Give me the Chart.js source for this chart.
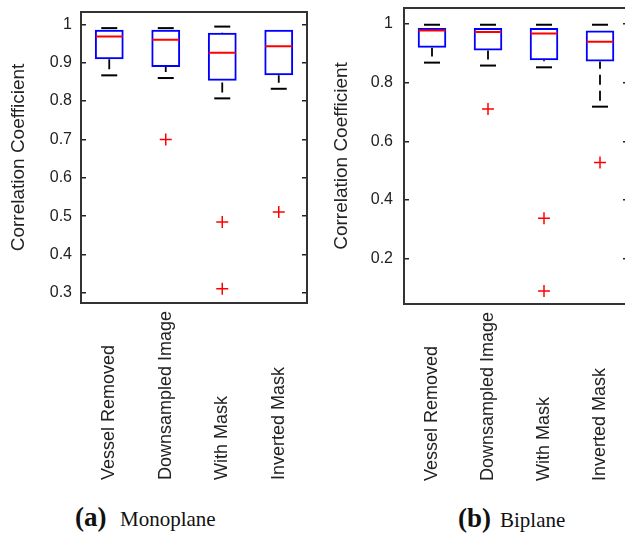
<!DOCTYPE html>
<html><head><meta charset="utf-8">
<script src="https://cdn.jsdelivr.net/npm/chart.js@4.4.1/dist/chart.umd.min.js"></script>
<style>
html,body{margin:0;padding:0;background:#fff;width:625px;height:534px;overflow:hidden;}
#wrap{position:relative;width:625px;height:534px;overflow:hidden;background:#fff;}
#c1{position:absolute;left:0;top:0;}
#c2{position:absolute;left:320px;top:0;}
.cap{position:absolute;font-family:"Liberation Serif","Times New Roman",serif;line-height:1;white-space:nowrap;color:#111;}
.b{font-weight:bold;font-size:27px;}
.r{font-size:21px;}
</style></head><body>
<div id="wrap">
<canvas id="c1" width="315" height="490"></canvas>
<canvas id="c2" width="316" height="490"></canvas>
<span class="cap b" style="left:75px;top:504px;">(a)</span>
<span class="cap r" style="left:120px;top:509px;">Monoplane</span>
<span class="cap b" style="left:458px;top:505px;">(b)</span>
<span class="cap r" style="left:500px;top:510px;">Biplane</span>
</div>
<script>
const categories = ['Vessel Removed', 'Downsampled Image', 'With Mask', 'Inverted Mask'];

// (a) Monoplane
const monoLow    = [0.867, 0.860, 0.807, 0.832];
const monoQ1     = [0.909, 0.889, 0.853, 0.867];
const monoMedian = [0.968, 0.960, 0.926, 0.943];
const monoQ3     = [0.986, 0.986, 0.978, 0.986];
const monoHigh   = [0.990, 0.990, 0.994, 0.986];
const monoOutlierCats   = ['Downsampled Image', 'With Mask', 'With Mask', 'Inverted Mask'];
const monoOutlierValues = [0.700, 0.485, 0.311, 0.511];
const monoTicks      = [0.3, 0.4, 0.5, 0.6, 0.7, 0.8, 0.9, 1];
const monoTickLabels = ['0.3', '0.4', '0.5', '0.6', '0.7', '0.8', '0.9', '1'];
const monoRange = [0.274, 1.032];

// (b) Biplane
const biLow    = [0.868, 0.858, 0.852, 0.718];
const biQ1     = [0.919, 0.909, 0.876, 0.872];
const biMedian = [0.977, 0.972, 0.967, 0.939];
const biQ3     = [0.986, 0.986, 0.986, 0.977];
const biHigh   = [0.997, 0.997, 0.997, 0.997];
const biOutlierCats   = ['Downsampled Image', 'With Mask', 'With Mask', 'Inverted Mask'];
const biOutlierValues = [0.710, 0.338, 0.090, 0.528];
const biTicks      = [0.2, 0.4, 0.6, 0.8, 1];
const biTickLabels = ['0.2', '0.4', '0.6', '0.8', '1'];
const biRange = [0.046, 1.054];

const yTitle = 'Correlation Coefficient';
const SANS = '"Liberation Sans", Arial, Helvetica, sans-serif';
const TEXT = '#222';
const FRAME = '#333';

const catLabelPlugin = {
  id: 'catLabels',
  afterDraw(chart, args, opts) {
    const ctx = chart.ctx, xs = chart.scales.x;
    ctx.save();
    ctx.font = opts.font;
    ctx.fillStyle = opts.color;
    ctx.textAlign = 'left';
    ctx.textBaseline = 'middle';
    chart.data.labels.forEach((lab, i) => {
      const x = xs.getPixelForValue(i);
      ctx.save();
      ctx.translate(x, opts.y);
      ctx.rotate(-Math.PI / 2);
      ctx.fillText(lab, 0, 0);
      ctx.restore();
    });
    ctx.restore();
  }
};

function makeChart(id, low, q1, med, q3, high, oCats, oVals, ticks, tickLabels, range, L) {
  const whiskers = [], caps = [];
  categories.forEach((c, i) => {
    if (high[i] > q3[i]) {
      whiskers.push({x: c, y: high[i]}, {x: c, y: q3[i]}, {x: c, y: null});
      caps.push({x: c, y: high[i]});
    }
    if (low[i] < q1[i]) {
      whiskers.push({x: c, y: low[i]}, {x: c, y: q1[i]}, {x: c, y: null});
      caps.push({x: c, y: low[i]});
    }
  });
  const outliers = oCats.map((c, i) => ({x: c, y: oVals[i]}));
  const medians = categories.map((c, i) => ({x: c, y: med[i]}));
  const setTicks = s => { s.ticks = ticks.map(v => ({value: v})); };

  return new Chart(document.getElementById(id), {
    type: 'bar',
    data: {
      labels: categories,
      datasets: [
        { type: 'line', data: outliers, showLine: false, pointStyle: 'cross', pointRadius: 6,
          pointBorderColor: '#ff0000', pointBorderWidth: 1.5, pointHoverRadius: 6 },
        { type: 'line', data: medians, showLine: false, pointStyle: 'line', pointRadius: 13.5,
          pointBorderColor: '#ff0000', pointBorderWidth: 2, pointHoverRadius: 13.5 },
        { type: 'bar', data: categories.map((c, i) => [q1[i], q3[i]]),
          backgroundColor: 'rgba(0,0,0,0)', borderColor: '#0000ff', borderWidth: 2,
          borderSkipped: false, barPercentage: 0.51, categoryPercentage: 1 },
        { type: 'line', data: caps, showLine: false, pointStyle: 'line', pointRadius: 8,
          pointBorderColor: '#000', pointBorderWidth: 2, pointHoverRadius: 8 },
        { type: 'line', data: whiskers, borderColor: '#000', borderWidth: 1.8,
          borderDash: [10, 6], borderDashOffset: 10, pointRadius: 0, fill: false, spanGaps: false }
      ]
    },
    options: {
      responsive: false, animation: false, devicePixelRatio: 1,
      layout: { autoPadding: false, padding: { top: L.top, left: 0, right: 0, bottom: 0 } },
      plugins: {
        legend: { display: false }, tooltip: { enabled: false },
        catLabels: { font: '18px ' + SANS, color: TEXT, y: L.labelY }
      },
      scales: {
        x: { type: 'category', position: 'bottom', offset: true,
             ticks: { display: false }, grid: { display: false },
             border: { display: true, color: FRAME, width: 2 },
             afterFit: s => { s.height = L.xHeight; } },
        x2: { type: 'category', position: 'top', offset: true,
              ticks: { display: false }, grid: { display: false },
              border: { display: true, color: FRAME, width: 2 },
              afterFit: s => { s.height = 0; } },
        y: { type: 'linear', position: 'left', min: range[0], max: range[1],
             afterBuildTicks: setTicks,
             afterFit: s => { s.width = L.yWidth; s.paddingTop = 0; s.paddingBottom = 0; },
             ticks: { callback: (v, i) => tickLabels[i], font: { family: SANS, size: 16 },
                      color: TEXT, padding: L.tickPad, autoSkip: false },
             grid: { drawOnChartArea: false, drawTicks: true, tickLength: -5, color: '#222', lineWidth: 1.5 },
             border: { display: true, color: FRAME, width: 2 },
             title: { display: true, text: yTitle, color: TEXT, font: { family: SANS, size: 19 },
                      padding: { top: L.titlePad, bottom: 0 } } },
        y2: { type: 'linear', position: 'right', min: range[0], max: range[1],
              afterBuildTicks: setTicks,
              afterFit: s => { s.width = 8; s.paddingTop = 0; s.paddingBottom = 0; },
              ticks: { display: false },
              grid: { drawOnChartArea: false, drawTicks: true, tickLength: -5, color: '#222', lineWidth: 1.5 },
              border: { display: true, color: FRAME, width: 2 } }
      }
    },
    plugins: [catLabelPlugin]
  });
}

makeChart('c1', monoLow, monoQ1, monoMedian, monoQ3, monoHigh, monoOutlierCats, monoOutlierValues,
  monoTicks, monoTickLabels, monoRange,
  { top: 12, xHeight: 187, yWidth: 81, tickPad: 14, titlePad: 7, labelY: 480 });
makeChart('c2', biLow, biQ1, biMedian, biQ3, biHigh, biOutlierCats, biOutlierValues,
  biTicks, biTickLabels, biRange,
  { top: 8, xHeight: 186, yWidth: 84, tickPad: 16, titlePad: 10, labelY: 481 });
</script>
</body></html>
